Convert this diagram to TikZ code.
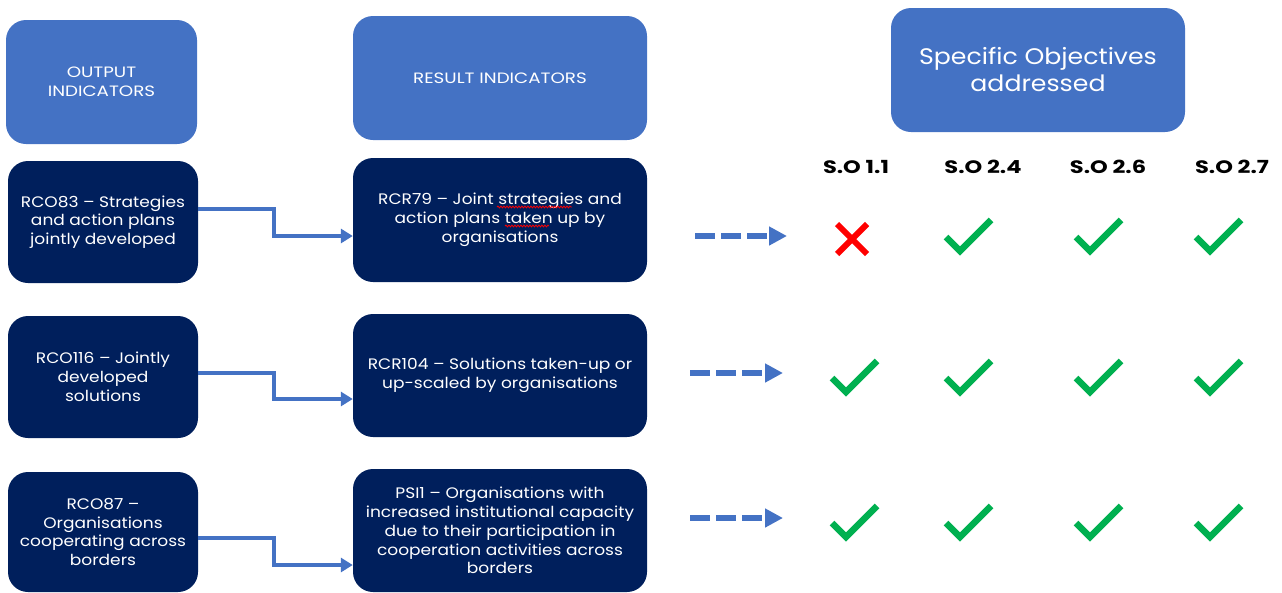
\documentclass[tikz,border=0pt]{standalone}
\usepackage{fontspec}
\setmainfont{Poppins}
\newfontfamily\wf[FakeStretch=1.12]{Poppins}
\newfontfamily\hf[FakeStretch=1.22]{Poppins}
\newfontfamily\sobf[FakeStretch=1.25]{Poppins}
\usetikzlibrary{arrows.meta,decorations.pathmorphing}
\definecolor{lblue}{HTML}{4472C4}
\definecolor{navy}{HTML}{001F5C}
\definecolor{okgreen}{HTML}{00B050}
\definecolor{nored}{HTML}{FF0000}
\begin{document}
\begin{tikzpicture}[x=1pt,y=-1pt,
  hdr/.style={fill=lblue, rounded corners=20pt, text=white, align=center, inner sep=0pt, font=\hf\fontsize{15}{19}\selectfont},
  dark/.style={fill=navy, rounded corners=20pt, text=white, align=center, inner sep=0pt, font=\wf\fontsize{15.2}{18.8}\selectfont},
  conn/.style={draw=lblue, line width=3.5pt, -{Triangle[length=12pt,width=14pt]}},
  dsh/.style={draw=lblue, line width=6pt, dash pattern=on 20pt off 6pt, -{Triangle[length=18pt,width=18pt]}},
  solbl/.style={font=\sobf\bfseries\fontsize{18}{20}\selectfont, text=black},
  squig/.style={draw=nored, line width=0.8pt, decorate, decoration={snake, amplitude=0.9pt, segment length=3pt}},
  tick/.pic={\draw[okgreen, line width=6.5pt, line cap=butt, line join=miter] (-14,-14) -- (0,0) -- (31,-31);},
  cross/.pic={\draw[nored, line width=6pt, line cap=butt] (-15,-15) -- (15,15) (-15,15) -- (15,-15);}
]
\useasboundingbox (0,0) rectangle (1282,592);
% header boxes
\node[hdr, minimum width=191pt, minimum height=124pt] (oi) at (101.5,82) {OUTPUT\\INDICATORS};
\node[hdr, minimum width=294pt, minimum height=124pt] (ri) at (500,78) {RESULT INDICATORS};
\node[hdr, minimum width=294pt, minimum height=124pt, font=\wf\fontsize{22.5}{27}\selectfont] (so) at (1038,70) {Specific Objectives\\addressed};
% dark boxes
\node[dark, minimum width=190pt, minimum height=122pt] (l1) at (103,222) {RCO83 – Strategies\\and action plans\\jointly developed};
\node[dark, minimum width=294pt, minimum height=124pt] (r1) at (500,220) {RCR79 – Joint strategies and\\action plans taken up by\\organisations};
\node[dark, minimum width=190pt, minimum height=122pt] (l2) at (103,377) {RCO116 – Jointly\\developed\\solutions};
\node[dark, minimum width=294pt, minimum height=123pt] (r2) at (500,375.5) {RCR104 – Solutions taken-up or\\up-scaled by organisations};
\node[dark, minimum width=190pt, minimum height=120pt] (l3) at (103,532) {RCO87 –\\Organisations\\cooperating across\\borders};
\node[dark, minimum width=294pt, minimum height=123pt] (r3) at (500,530.5) {PSI1 – Organisations with\\increased institutional capacity\\due to their participation in\\cooperation activities across\\borders};
% spell-check underlines
\draw[squig] ([shift={(-3pt,13pt)}]r1.center) -- ([shift={(72pt,13pt)}]r1.center);
\draw[squig] ([shift={(5pt,-6pt)}]r1.center) -- ([shift={(49pt,-6pt)}]r1.center);
% connectors
\draw[conn] ([yshift=13pt]l1.east) -- ++(76,0) |- ([yshift=-16pt]r1.west);
\draw[conn] ([yshift=4pt]l2.east) -- ++(76,0) |- ([yshift=-23.5pt]r2.west);
\draw[conn] ([yshift=-6pt]l3.east) -- ++(76,0) |- ([yshift=-34.5pt]r3.west);
% dashed arrows
\coordinate (d1s) at (695,236); \coordinate (d1e) at (787,236);
\coordinate (d2s) at (690,373); \coordinate (d2e) at (783,373);
\coordinate (d3s) at (690,518); \coordinate (d3e) at (783,518);
\draw[dsh] (d1s) -- (d1e);
\draw[dsh] (d2s) -- (d2e);
\draw[dsh] (d3s) -- (d3e);
% column labels
\node[solbl] (c1) at (856,167) {S.O 1.1};
\node[solbl] (c2) at (983,167) {S.O 2.4};
\node[solbl] (c3) at (1108,167) {S.O 2.6};
\node[solbl] (c4) at (1232,167) {S.O 2.7};
% marks
\pic at (852,239) {cross};
\pic at (960,251) {tick};
\pic at (1090,251) {tick};
\pic at (1210,251) {tick};
\pic at (846,392) {tick};
\pic at (960,392) {tick};
\pic at (1090,392) {tick};
\pic at (1210,392) {tick};
\pic at (846,537) {tick};
\pic at (960,537) {tick};
\pic at (1090,537) {tick};
\pic at (1210,537) {tick};
\end{tikzpicture}
\end{document}
